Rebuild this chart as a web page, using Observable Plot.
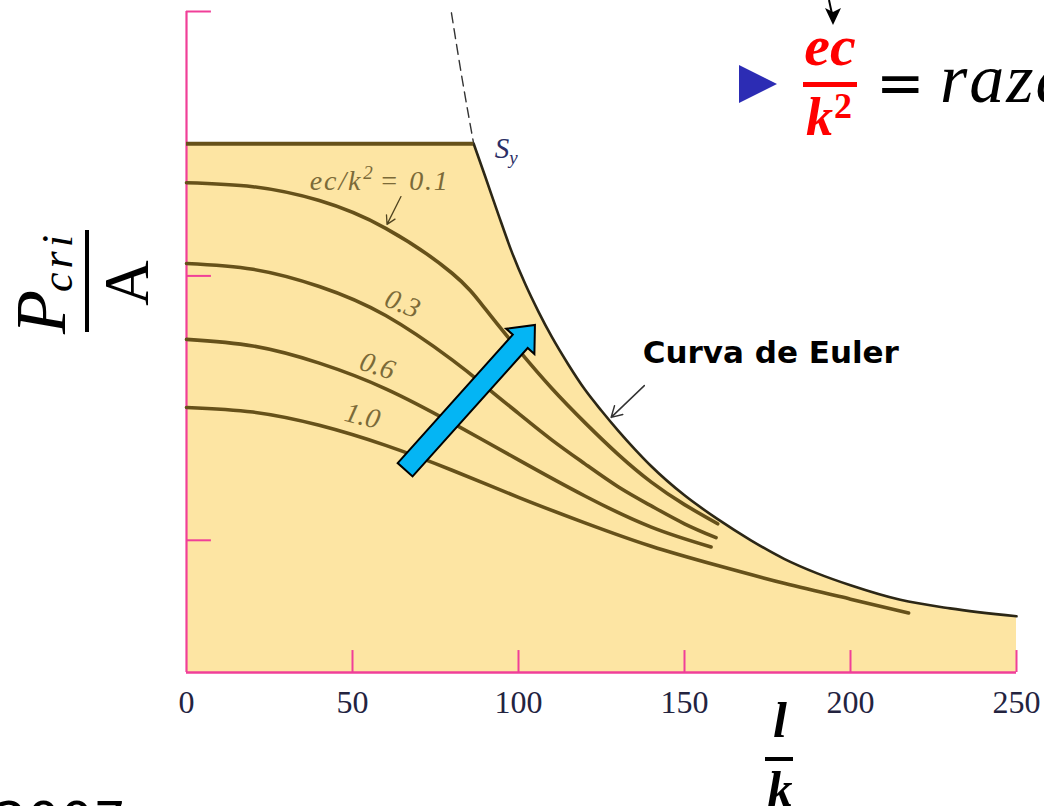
<!DOCTYPE html>
<html>
<head>
<meta charset="utf-8">
<script src="https://cdn.jsdelivr.net/npm/d3@7"></script>
<script src="https://cdn.jsdelivr.net/npm/@observablehq/plot@0.6"></script>
<style>
  html, body { margin: 0; padding: 0; background: #ffffff; overflow: hidden; }
  #chart { position: relative; width: 1044px; height: 806px; }
</style>
</head>
<body>
<div id="chart"></div>
<script>
// ---------------- data ----------------
const lkTicks = [0, 50, 100, 150, 200, 250];          // l/k tick labels
const stressTicks = [10, 30, 50];                      // unlabeled P/A ticks
const yieldStrength = 40;                              // S_y plateau
const yieldEndLK = 86.5;                               // where plateau meets Euler curve

const eulerLK     = [86.5, 90, 94, 98, 102, 106, 110, 115, 120, 125, 130, 135, 140, 150, 160, 170, 180, 190, 200, 215, 230, 250];
const eulerStress = [40, 37.5, 34.6, 31.8, 29.4, 27.3, 25.4, 23.3, 21.4, 19.8, 18.3, 16.9, 15.6, 13.4, 11.6, 10.0, 8.6, 7.5, 6.6, 5.5, 4.85, 4.25];

const eulerDashLK     = [79.8, 83.1, 86.5];
const eulerDashStress = [49.9, 44.8, 40];

const ratios = ["0.1", "0.3", "0.6", "1.0"];
const lk01     = [0, 20, 40, 60, 80, 90, 100, 110, 120, 130, 140, 150, 160];
const stress01 = [37.05, 36.75, 35.7, 33.6, 30.2, 27.5, 24.4, 21.5, 18.9, 16.5, 14.4, 12.7, 11.25];
const lk03     = [0, 20, 40, 60, 80, 90, 100, 110, 120, 130, 140, 150, 159.5];
const stress03 = [30.94, 30.5, 29.2, 27.0, 23.65, 21.65, 19.6, 17.6, 15.78, 14.05, 12.6, 11.25, 10.2];
const lk06     = [0, 20, 40, 60, 80, 100, 120, 140, 158];
const stress06 = [25.2, 24.7, 23.4, 21.46, 18.88, 16.08, 13.35, 11.0, 9.5];
const lk10     = [0, 20, 40, 60, 80, 100, 120, 140, 160, 180, 200, 217.5];
const stress10 = [20.05, 19.7, 18.7, 17.18, 15.3, 13.25, 11.32, 9.55, 8.09, 6.75, 5.55, 4.5];

// ---------------- derived tables ----------------
const euler = eulerLK.map((lk, i) => ({lk, s: eulerStress[i]}));
const envelope = [{lk: 0, s: yieldStrength}, ...euler];
const eulerDash = eulerDashLK.map((lk, i) => ({lk, s: eulerDashStress[i]}));
const series = [[lk01, stress01], [lk03, stress03], [lk06, stress06], [lk10, stress10]];
const eccCurves = series.flatMap(([xs, ys], k) => xs.map((lk, i) => ({ratio: ratios[k], lk, s: ys[i]})));

// ---------------- styling / annotation layout ----------------
const fillColor = "#fde5a3";
const axisColor = "#f03f98";
const curveColor = "#66511a";
const eulerColor = "#2c2716";
const labelColor = "#7b6a38";
const xTickLen = 1.66;   // in stress units (≈22 px)
const yTickLen = 7.5;    // in l/k units (≈25 px)

const curveLabels = [
  {text: "0.3", lk: 65.1, s: 27.9, rotate: 22},
  {text: "0.6", lk: 57.5, s: 23.2, rotate: 18},
  {text: "1.0", lk: 53.0, s: 19.4, rotate: 14}
];
const firstLabel = {lk: 37.3, s: 36.45};
const firstArrow = {x1: 64.6, y1: 36.0, x2: 60.4, y2: 33.9};
const eulerLabel = {text: "Curva de Euler", lk: 137.4, s: 23.4};
const eulerArrow = {x1: 137.9, y1: 21.7, x2: 127.9, y2: 19.3};
const syLabel = {lk: 93.0, s: 38.9};
const blueArrow = {x1: 66.0, y1: 15.3, x2: 105.1, y2: 26.25};

function txt(g, x, y, opts = {}) {
  const t = g.append("text").attr("x", x).attr("y", y)
    .attr("text-anchor", opts.anchor || "start")
    .attr("font-family", opts.family || "Liberation Serif")
    .attr("font-size", opts.size || 20)
    .attr("fill", opts.fill || "#000");
  if (opts.italic) t.attr("font-style", "italic");
  if (opts.bold) t.attr("font-weight", "bold");
  return t;
}

function annotations(index, scales) {
  const g = d3.create("svg:g");
  // blue arrow (data-anchored)
  const ax = scales.x(blueArrow.x1), ay = scales.y(blueArrow.y1);
  const bx = scales.x(blueArrow.x2), by = scales.y(blueArrow.y2);
  const len = Math.hypot(bx - ax, by - ay);
  const ux = (bx - ax) / len, uy = (by - ay) / len;
  const nx = -uy, ny = ux;
  const hw = 10, headLen = 22, headHw = 19;
  const cx = bx - ux * headLen, cy = by - uy * headLen;
  const pts = [
    [ax + nx * hw, ay + ny * hw],
    [cx + nx * hw, cy + ny * hw],
    [cx + nx * headHw, cy + ny * headHw],
    [bx, by],
    [cx - nx * headHw, cy - ny * headHw],
    [cx - nx * hw, cy - ny * hw],
    [ax - nx * hw, ay - ny * hw]
  ];
  g.append("polygon").attr("points", pts.map(p => p.join(",")).join(" "))
    .attr("fill", "#04b5f4").attr("stroke", "#000").attr("stroke-width", 2).attr("stroke-linejoin", "miter");

  // label "ec/k² = 0.1" (data-anchored)
  const fl = txt(g, scales.x(firstLabel.lk), scales.y(firstLabel.s), {italic: true, size: 28, fill: labelColor})
    .attr("textLength", 138).attr("lengthAdjust", "spacing");
  fl.append("tspan").text("ec/k");
  fl.append("tspan").attr("font-size", 19).attr("dy", -11).attr("dx", 1).text("2");
  fl.append("tspan").attr("dy", 11).attr("dx", 5).text("= 0.1");

  // S_y label
  const sy = txt(g, scales.x(syLabel.lk), scales.y(syLabel.s), {italic: true, size: 29, fill: "#2b2f66"});
  sy.append("tspan").text("S");
  sy.append("tspan").attr("font-size", 19).attr("dy", 6).text("y");

  // y-axis label: P_cri / A (rotated fraction)
  const yl = g.append("g").attr("transform", "translate(87,281) rotate(-90)");
  yl.append("rect").attr("x", -51).attr("y", -2).attr("width", 102).attr("height", 4).attr("fill", "#000");
  const pt = txt(yl, -53, -22, {italic: true, size: 72});
  pt.append("tspan").text("P");
  pt.append("tspan").attr("font-size", 44).attr("dy", 7).attr("dx", -2).attr("letter-spacing", 4).text("cri");
  txt(yl, -2, 61, {anchor: "middle", size: 63}).text("A");

  // x-axis label: l / k
  txt(g, 780, 737, {anchor: "middle", italic: true, bold: true, size: 50}).text("l");
  g.append("rect").attr("x", 765).attr("y", 757).attr("width", 28).attr("height", 4).attr("fill", "#000");
  txt(g, 780, 806, {anchor: "middle", italic: true, bold: true, size: 50}).text("k");

  // top-right formula
  g.append("line").attr("x1", 829).attr("y1", 0).attr("x2", 832).attr("y2", 14).attr("stroke", "#000").attr("stroke-width", 2);
  g.append("polygon").attr("points", "825,8 833,12 841,8 833,25").attr("fill", "#000");
  g.append("polygon").attr("points", "739,65 739,103 777,84").attr("fill", "#2c2cb4");
  txt(g, 830, 65, {anchor: "middle", italic: true, bold: true, size: 58, fill: "#ff0000"}).text("ec");
  g.append("rect").attr("x", 803).attr("y", 82).attr("width", 54).attr("height", 5).attr("fill", "#ff0000");
  const kt = txt(g, 806, 135, {bold: true, size: 54, fill: "#ff0000"});
  kt.append("tspan").attr("font-style", "italic").text("k");
  kt.append("tspan").attr("font-size", 36).attr("dy", -17).attr("dx", 1).text("2");
  txt(g, 876, 103, {family: "DejaVu Sans", size: 58}).text("=");
  txt(g, 940, 102, {italic: true, size: 70}).attr("letter-spacing", 2).text("razão");

  // cut-off text at bottom-left
  txt(g, -6, 839, {family: "DejaVu Sans", size: 52}).text("2007");
  return g.node();
}

const chart = Plot.plot({
  width: 1044,
  height: 806,
  marginLeft: 186,
  marginRight: 28,
  marginTop: 11,
  marginBottom: 134,
  x: {domain: [0, 250], axis: null},
  y: {domain: [0, 50], axis: null},
  style: {background: "#ffffff", overflow: "visible", fontFamily: "Liberation Serif"},
  marks: [
    Plot.areaY(envelope, {x: "lk", y: "s", fill: fillColor, curve: "linear"}),
    Plot.ruleX([0], {y1: 0, y2: 50, stroke: axisColor, strokeWidth: 2.2}),
    Plot.ruleY([0], {x1: 0, x2: 250, stroke: axisColor, strokeWidth: 2.4}),
    Plot.ruleX(lkTicks.slice(1), {x: d => d, y1: 0, y2: xTickLen, stroke: axisColor, strokeWidth: 2}),
    Plot.ruleY(stressTicks, {y: d => d, x1: 0, x2: yTickLen, stroke: axisColor, strokeWidth: 2}),
    Plot.text(lkTicks, {x: d => d, y: 0, text: d => String(d), dy: 40, lineAnchor: "bottom",
      fontSize: 32, fontFamily: "Liberation Serif", fill: "#23233f"}),
    Plot.line(eccCurves, {x: "lk", y: "s", z: "ratio", stroke: curveColor, strokeWidth: 3.6, curve: "natural"}),
    Plot.line(euler, {x: "lk", y: "s", stroke: eulerColor, strokeWidth: 2.6, curve: "monotone-x"}),
    Plot.line(eulerDash, {x: "lk", y: "s", stroke: "#333333", strokeWidth: 1.4, strokeDasharray: "10,6", curve: "monotone-x"}),
    Plot.ruleY([yieldStrength], {x1: 0, x2: yieldEndLK, stroke: curveColor, strokeWidth: 4}),
    Plot.arrow([firstArrow], {x1: "x1", y1: "y1", x2: "x2", y2: "y2", stroke: "#4f4320", strokeWidth: 1.3, headLength: 11}),
    Plot.text(curveLabels, {x: "lk", y: "s", text: "text", rotate: "rotate", fontSize: 28, fontStyle: "italic",
      fontFamily: "Liberation Serif", fill: labelColor}),
    Plot.text([eulerLabel], {x: "lk", y: "s", text: "text", textAnchor: "start", lineAnchor: "bottom",
      fontSize: 31, fontWeight: "bold", fontFamily: "DejaVu Sans", fill: "#000000"}),
    Plot.arrow([eulerArrow], {x1: "x1", y1: "y1", x2: "x2", y2: "y2", stroke: "#333333", strokeWidth: 1.5, headLength: 12}),
    annotations
  ]
});

document.getElementById("chart").appendChild(chart);
</script>
</body>
</html>
